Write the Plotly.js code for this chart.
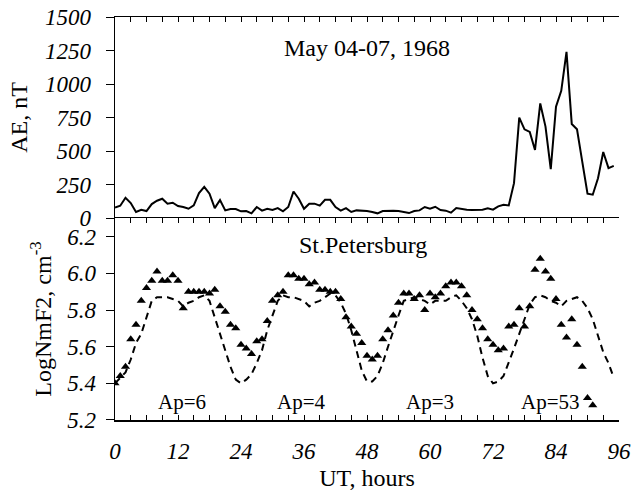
<!DOCTYPE html>
<html>
<head>
<meta charset="utf-8">
<script src="https://cdn.plot.ly/plotly-3.0.1.min.js"></script>
</head>
<body style="margin:0;background:#fff">
<div id="chart" style="width:644px;height:495px"></div>
<script>
// UT hours
var hoursAE = [];
for (var i = 0; i < 96; i++) hoursAE.push(i);
// AE index, nT (hourly)
var aeValues = [79,92,151,112,45,62,52,104,129,144,
                107,114,89,82,69,94,186,233,181,74,
                134,57,67,67,50,52,35,82,55,69,
                60,74,50,82,198,144,69,107,107,92,
                136,136,82,55,74,45,57,55,52,45,
                35,52,55,55,52,45,37,52,57,82,
                69,84,60,55,40,74,67,62,60,60,
                62,72,62,87,99,94,260,749,662,642,
                508,855,682,364,830,949,1240,702,662,421,
                181,174,297,493,372,389];

// Observed LogNmF2 (triangles)
var hoursObs = [];
for (var j = 0; j < 92; j++) hoursObs.push(j);
var obsNmF2 = [5.40,5.44,5.49,5.64,5.72,5.85,5.92,5.96,6.01,5.96,
               5.96,5.99,5.96,5.81,5.90,5.90,5.90,5.90,5.89,5.91,
               5.82,5.79,5.72,5.70,5.61,5.59,5.56,5.63,5.64,5.74,
               5.85,5.88,5.90,5.99,5.99,5.97,5.97,5.94,5.95,5.91,
               5.91,5.90,5.90,5.86,5.76,5.71,5.67,5.62,5.55,5.53,
               5.55,5.64,5.69,5.77,5.84,5.89,5.89,5.86,5.88,5.80,
               5.89,5.87,5.89,5.93,5.95,5.95,5.93,5.88,5.80,5.75,
               5.70,5.64,5.61,5.58,5.59,5.71,5.72,5.81,5.71,5.82,
               6.02,6.08,6.01,5.97,5.86,5.72,5.65,5.75,5.61,5.49,
               5.32,5.28];

// Model LogNmF2 (dashed)
var hoursModel = [];
for (var k = 0; k < 96; k++) hoursModel.push(k);
var modelNmF2 = [5.40,5.43,5.46,5.53,5.62,5.67,5.76,5.85,5.87,5.87,
                 5.87,5.86,5.85,5.82,5.84,5.85,5.87,5.88,5.85,5.76,
                 5.67,5.58,5.49,5.42,5.40,5.42,5.45,5.51,5.58,5.69,
                 5.77,5.85,5.88,5.87,5.87,5.86,5.85,5.82,5.84,5.85,
                 5.87,5.89,5.88,5.84,5.78,5.69,5.58,5.47,5.41,5.41,
                 5.44,5.51,5.60,5.69,5.77,5.85,5.86,5.87,5.86,5.85,
                 5.83,5.85,5.85,5.85,5.87,5.88,5.85,5.81,5.75,5.66,
                 5.54,5.44,5.40,5.41,5.44,5.51,5.59,5.67,5.75,5.83,
                 5.87,5.88,5.87,5.85,5.84,5.82,5.85,5.86,5.87,5.85,
                 5.81,5.75,5.66,5.57,5.51,5.43];

var apLabels = ["Ap=6", "Ap=4", "Ap=3", "Ap=53"];
var apHours = [12.8, 35.6, 60, 83];

var serif = "Liberation Serif";
var tickFontItalic = {family: serif, size: 23, color: "#000", style: "italic"};

var traces = [
  {x: hoursAE, y: aeValues, xaxis: "x2", yaxis: "y2", type: "scatter", mode: "lines",
   line: {color: "#000", width: 2}, showlegend: false, hoverinfo: "skip"},
  {x: hoursModel, y: modelNmF2, xaxis: "x", yaxis: "y", type: "scatter", mode: "lines",
   line: {color: "#000", width: 2, dash: "7px,5px"}, showlegend: false, hoverinfo: "skip"},
  {x: hoursObs, y: obsNmF2, xaxis: "x", yaxis: "y", type: "scatter", mode: "markers",
   marker: {symbol: "triangle-up", size: 8, color: "#000"}, showlegend: false, hoverinfo: "skip"}
];

var annotations = [
  {xref: "x2", yref: "y2", x: 48, y: 1268, text: "May 04-07, 1968", showarrow: false,
   font: {family: serif, size: 24, color: "#000"}},
  {xref: "x", yref: "y", x: 47.3, y: 6.155, text: "St.Petersburg", showarrow: false,
   font: {family: serif, size: 24, color: "#000"}}
];
for (var a = 0; a < apLabels.length; a++) {
  annotations.push({xref: "x", yref: "y", x: apHours[a], y: 5.30, text: apLabels[a], showarrow: false,
    font: {family: serif, size: 21, color: "#000"}});
}

var split = 0.5012;
var layout = {
  width: 644, height: 495,
  margin: {l: 115, r: 25, t: 17, b: 75, pad: 0},
  paper_bgcolor: "#fff", plot_bgcolor: "#fff",
  showlegend: false,
  xaxis: {domain: [0, 1], anchor: "y", range: [0, 96], tickvals: [0,12,24,36,48,60,72,84,96],
          ticks: "inside", ticklen: 5, tickwidth: 1, tickcolor: "#000",
          minor: {dtick: 3, tick0: 0, ticks: "inside", ticklen: 5, tickwidth: 1, tickcolor: "#000"},
          showline: true, linecolor: "#000", linewidth: 1.5, mirror: "ticks",
          showgrid: false, zeroline: false, tickfont: tickFontItalic, ticklabelstandoff: 10,
          title: {text: "UT, hours", font: {family: serif, size: 24, color: "#000"}, standoff: 6}},
  yaxis: {domain: [0, split], anchor: "x", range: [5.2, 6.302], tickvals: [5.2,5.4,5.6,5.8,6.0,6.2],
          ticktext: ["5.2","5.4","5.6","5.8","6.0","6.2"],
          ticks: "outside", ticklen: 8, tickwidth: 1, tickcolor: "#000",
          showline: true, linecolor: "#000", linewidth: 1.5,
          showgrid: false, zeroline: false, tickfont: tickFontItalic, ticklabelstandoff: 5,
          title: {text: "LogNmF2, cm<sup>-3</sup>", font: {family: serif, size: 24, color: "#000"}, standoff: 8}},
  yaxis3: {overlaying: "y", side: "right", anchor: "x", range: [5.2, 6.302], tickvals: [5.2,5.4,5.6,5.8,6.0,6.2],
          ticks: "inside", ticklen: 8, tickwidth: 1, tickcolor: "#000", showticklabels: false,
          showline: true, linecolor: "#000", linewidth: 1.5, showgrid: false, zeroline: false},
  xaxis2: {domain: [0, 1], anchor: "y2", side: "top", matches: "x", range: [0, 96],
          tickvals: [0,12,24,36,48,60,72,84,96], showticklabels: false,
          ticks: "inside", ticklen: 5, tickwidth: 1, tickcolor: "#000",
          minor: {dtick: 3, tick0: 0, ticks: "inside", ticklen: 5, tickwidth: 1, tickcolor: "#000"},
          showline: true, linecolor: "#000", linewidth: 1.5, showgrid: false, zeroline: false},
  yaxis2: {domain: [split, 1], anchor: "x2", range: [0, 1500], tickvals: [0,250,500,750,1000,1250,1500],
          ticks: "outside", ticklen: 8, tickwidth: 1, tickcolor: "#000",
          showline: true, linecolor: "#000", linewidth: 1.5,
          showgrid: false, zeroline: false, tickfont: tickFontItalic, ticklabelstandoff: 10,
          title: {text: "AE, nT", font: {family: serif, size: 24, color: "#000"}, standoff: 10}},
  yaxis4: {overlaying: "y2", side: "right", anchor: "x2", range: [0, 1500], tickvals: [0,250,500,750,1000,1250,1500],
          ticks: "inside", ticklen: 8, tickwidth: 1, tickcolor: "#000", showticklabels: false,
          showline: true, linecolor: "#000", linewidth: 1.5, showgrid: false, zeroline: false},
  annotations: annotations
};

Plotly.newPlot("chart", traces, layout, {displayModeBar: false, staticPlot: true});
</script>
</body>
</html>
